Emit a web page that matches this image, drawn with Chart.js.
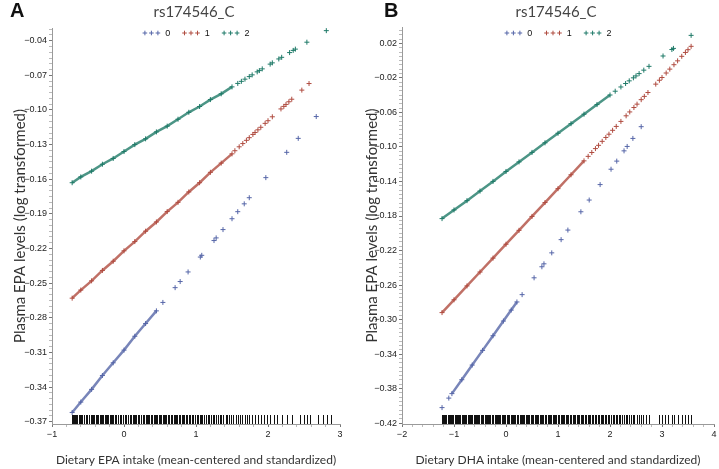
<!DOCTYPE html>
<html>
<head>
<meta charset="utf-8">
<script src="https://cdn.jsdelivr.net/npm/chart.js@4.4.1/dist/chart.umd.min.js"></script>
<style>
  html, body { margin: 0; padding: 0; background: #fff; }
  #wrap { position: relative; width: 719px; height: 469px; overflow: hidden; }
  canvas { position: absolute; top: 0; }
  #chartA { left: 0; }
  #chartB { left: 355px; }
</style>
</head>
<body>
<div id="wrap">
  <canvas id="chartA" width="360" height="469"></canvas>
  <canvas id="chartB" width="364" height="469"></canvas>
</div>
<script>
// ============================================
// DATA
// ============================================

const groupLabels = ['0', '1', '2'];
const groupColors = ['#5666a8', '#b04c40', '#1f7a68'];
const chartTitle = 'rs174546_C';

// ---- Panel A : dietary EPA ----
const aXTicks = [-1, 0, 1, 2, 3];
const aYTicks = [-0.37, -0.34, -0.31, -0.28, -0.25, -0.22, -0.19, -0.16, -0.13, -0.10, -0.07, -0.04];

const aX0Dense = [-0.72, -0.6, -0.45, -0.3, -0.15, 0, 0.15, 0.3, 0.45];
const aY0Dense = [-0.362, -0.353, -0.342, -0.330, -0.319, -0.308, -0.296, -0.285, -0.274];
const aX0Sparse = [0.54, 0.71, 0.78, 0.89, 1.06, 1.08, 1.25, 1.28, 1.375, 1.50, 1.58, 1.67, 1.74, 1.97, 2.26, 2.42, 2.67];
const aY0Sparse = [-0.2667, -0.2539, -0.2486, -0.2403, -0.2274, -0.2259, -0.2131, -0.2108, -0.2036, -0.1942, -0.1881, -0.1813, -0.1760, -0.1586, -0.1367, -0.1246, -0.1057];

const aX1Dense = [-0.72, -0.6, -0.45, -0.3, -0.15, 0, 0.15, 0.3, 0.45, 0.6, 0.75, 0.9, 1.05, 1.2, 1.35, 1.5];
const aY1Dense = [-0.263, -0.256, -0.248, -0.239, -0.231, -0.222, -0.214, -0.205, -0.197, -0.188, -0.180, -0.171, -0.163, -0.154, -0.146, -0.138];
const aX1Sparse = [1.54, 1.6, 1.65, 1.7, 1.74, 1.79, 1.82, 1.86, 1.9, 1.96, 2.0, 2.06, 2.18, 2.22, 2.25, 2.29, 2.33, 2.47, 2.57];
const aY1Sparse = [-0.1353, -0.1319, -0.1291, -0.1263, -0.1240, -0.1212, -0.1195, -0.1172, -0.1150, -0.1116, -0.1093, -0.1059, -0.0991, -0.0969, -0.0952, -0.0929, -0.0907, -0.0828, -0.0771];

const aX2Dense = [-0.72, -0.6, -0.45, -0.3, -0.15, 0, 0.15, 0.3, 0.45, 0.6, 0.75, 0.9, 1.05, 1.2, 1.35, 1.5];
const aY2Dense = [-0.163, -0.158, -0.153, -0.147, -0.142, -0.136, -0.130, -0.125, -0.119, -0.114, -0.108, -0.102, -0.097, -0.091, -0.086, -0.080];
const aX2Sparse = [1.58, 1.63, 1.68, 1.74, 1.78, 1.85, 1.88, 1.92, 2.03, 2.06, 2.15, 2.19, 2.30, 2.35, 2.38, 2.54, 2.81];
const aY2Sparse = [-0.0770, -0.0752, -0.0733, -0.0711, -0.0696, -0.0670, -0.0659, -0.0644, -0.0603, -0.0592, -0.0558, -0.0544, -0.0503, -0.0484, -0.0473, -0.0413, -0.0313];

const aRug = [-0.72, -0.71, -0.69, -0.68, -0.66, -0.65, -0.63, -0.61, -0.60, -0.58, -0.56, -0.55, -0.53, -0.51, -0.49, -0.48,
  -0.46, -0.44, -0.43, -0.41, -0.39, -0.37, -0.36, -0.34, -0.32, -0.30, -0.29, -0.27, -0.25, -0.23, -0.22, -0.20, -0.18,
  -0.16, -0.15, -0.13, -0.11, -0.09, -0.08, -0.06, -0.04, -0.02, -0.01, 0.01, 0.03, 0.05, 0.06, 0.08, 0.10, 0.12, 0.14,
  0.15, 0.17, 0.19, 0.21, 0.23, 0.24, 0.26, 0.28, 0.30, 0.32, 0.33, 0.35, 0.37, 0.39, 0.41, 0.43, 0.44, 0.46, 0.48, 0.50,
  0.52, 0.54, 0.56, 0.57, 0.59, 0.61, 0.63, 0.65, 0.67, 0.69, 0.71, 0.72, 0.74, 0.76, 0.78, 0.80, 0.82, 0.84, 0.86, 0.88,
  0.90, 0.92, 0.94, 0.96, 0.98, 1.01, 1.03, 1.05, 1.07, 1.09, 1.11, 1.14, 1.16, 1.18, 1.21, 1.23, 1.25, 1.28, 1.30, 1.33,
  1.35, 1.38, 1.41, 1.43, 1.46, 1.49, 1.52, 1.55, 1.58, 1.61, 1.64, 1.68, 1.71, 1.74, 1.78, 1.82, 1.86, 1.90, 1.94, 1.98,
  2.03, 2.08, 2.13, 2.19, 2.26, 2.33, 2.44, 2.50, 2.54, 2.58, 2.69, 2.76, 2.82, 2.87];

// ---- Panel B : dietary DHA ----
const bXTicks = [-2, -1, 0, 1, 2, 3, 4];
const bYTicks = [-0.42, -0.38, -0.34, -0.30, -0.26, -0.22, -0.18, -0.14, -0.10, -0.06, -0.02, 0.02];

const bX0Dense = [-1.04, -0.85, -0.65, -0.45, -0.25, -0.05, 0.1, 0.21];
const bY0Dense = [-0.3858, -0.3697, -0.3527, -0.3357, -0.3187, -0.3017, -0.2890, -0.2796];
const bX0Sparse = [-1.23, -1.1, 0.31, 0.54, 0.69, 0.73, 0.88, 1.06, 1.19, 1.44, 1.60, 1.81, 2.02, 2.13, 2.27, 2.33, 2.44, 2.60];
const bY0Sparse = [-0.402, -0.391, -0.2711, -0.2516, -0.2388, -0.2354, -0.2227, -0.2074, -0.1963, -0.1751, -0.1615, -0.1436, -0.1258, -0.1164, -0.1045, -0.0994, -0.0901, -0.0765];

const bX1Dense = [-1.23, -1.0, -0.75, -0.5, -0.25, 0, 0.25, 0.5, 0.75, 1.0, 1.25, 1.5];
const bY1Dense = [-0.2919, -0.2771, -0.2610, -0.2449, -0.2288, -0.2127, -0.1966, -0.1805, -0.1644, -0.1483, -0.1322, -0.1161];
const bX1Sparse = [1.58, 1.65, 1.72, 1.78, 1.85, 1.92, 1.98, 2.05, 2.12, 2.21, 2.31, 2.38, 2.46, 2.52, 2.60, 2.66, 2.73, 2.88, 2.95, 3.0, 3.08, 3.15, 3.23, 3.3, 3.38, 3.45, 3.5, 3.56];
const bY1Sparse = [-0.1109, -0.1064, -0.1019, -0.0981, -0.0935, -0.0890, -0.0852, -0.0807, -0.0762, -0.0704, -0.0639, -0.0594, -0.0543, -0.0504, -0.0452, -0.0414, -0.0369, -0.0272, -0.0227, -0.0195, -0.0143, -0.0098, -0.0047, -0.0002, 0.0050, 0.0095, 0.0127, 0.0166];

const bX2Dense = [-1.23, -1.0, -0.75, -0.5, -0.25, 0, 0.25, 0.5, 0.75, 1.0, 1.25, 1.5, 1.75, 2.0];
const bY2Dense = [-0.183, -0.173, -0.1622, -0.1511, -0.1399, -0.1284, -0.1173, -0.1063, -0.0952, -0.0841, -0.0730, -0.0620, -0.0509, -0.0398];
const bX2Sparse = [2.1, 2.21, 2.3, 2.37, 2.45, 2.5, 2.56, 2.65, 2.75, 3.02, 3.19, 3.22, 3.56];
const bY2Sparse = [-0.0354, -0.0305, -0.0265, -0.0234, -0.0199, -0.0177, -0.0150, -0.0110, -0.0066, 0.0054, 0.0129, 0.0142, 0.0293];

const bRug = [-1.23, -1.21, -1.19, -1.17, -1.15, -1.12, -1.10, -1.08, -1.06, -1.04, -1.01, -0.99, -0.97, -0.95, -0.92, -0.90,
  -0.88, -0.85, -0.83, -0.81, -0.79, -0.76, -0.74, -0.72, -0.69, -0.67, -0.65, -0.62, -0.60, -0.58, -0.55, -0.53, -0.51,
  -0.48, -0.46, -0.44, -0.41, -0.39, -0.37, -0.34, -0.32, -0.30, -0.27, -0.25, -0.22, -0.20, -0.18, -0.15, -0.13, -0.11,
  -0.08, -0.06, -0.03, -0.01, 0.01, 0.04, 0.06, 0.09, 0.11, 0.13, 0.16, 0.18, 0.21, 0.23, 0.26, 0.28, 0.30, 0.33, 0.35,
  0.38, 0.40, 0.43, 0.45, 0.48, 0.50, 0.52, 0.55, 0.57, 0.60, 0.62, 0.65, 0.67, 0.70, 0.72, 0.75, 0.77, 0.80, 0.82, 0.85,
  0.87, 0.90, 0.92, 0.95, 0.97, 1.00, 1.02, 1.05, 1.07, 1.10, 1.12, 1.15, 1.18, 1.20, 1.23, 1.25, 1.28, 1.31, 1.33, 1.36,
  1.38, 1.41, 1.44, 1.46, 1.49, 1.52, 1.54, 1.57, 1.60, 1.62, 1.65, 1.68, 1.71, 1.73, 1.76, 1.79, 1.82, 1.85, 1.87, 1.90,
  1.93, 1.96, 1.99, 2.02, 2.05, 2.08, 2.11, 2.14, 2.17, 2.20, 2.23, 2.27, 2.30, 2.33, 2.37, 2.40, 2.44, 2.47, 2.51, 2.55,
  2.60, 2.64, 2.69, 2.75, 2.95, 3.00, 3.05, 3.12, 3.19, 3.23, 3.30, 3.38, 3.45, 3.50, 3.56];

// ============================================
// HELPERS
// ============================================

function zip(xs, ys) {
    return xs.map((x, i) => ({ x: x, y: ys[i] }));
}

function fmt(v, digits) {
    const s = Math.abs(v).toFixed(digits);
    return (v < -1e-9 ? '\u2212' : '') + s;
}

function withAlpha(hex, a) {
    const n = parseInt(hex.slice(1), 16);
    return `rgba(${(n >> 16) & 255}, ${(n >> 8) & 255}, ${n & 255}, ${a})`;
}

function buildDatasets(dense, sparse) {
    const datasets = [];
    groupLabels.forEach((label, i) => {
        datasets.push({
            label: label,
            data: zip(dense[i][0], dense[i][1]),
            showLine: true,
            borderColor: withAlpha(groupColors[i], 0.8),
            borderWidth: 2.5,
            pointStyle: 'cross',
            pointRadius: 2.5,
            pointBorderColor: groupColors[i],
            pointBorderWidth: 1,
            order: 3 - i
        });
        datasets.push({
            label: label,
            inLegend: false,
            data: zip(sparse[i][0], sparse[i][1]),
            showLine: false,
            pointStyle: 'cross',
            pointRadius: 2.5,
            pointBorderColor: groupColors[i],
            pointBorderWidth: 1,
            order: 3 - i
        });
    });
    return datasets;
}

// major ticks labelled, minor ticks in between
function tickBuilder(majors, subdivisions, min, max) {
    const step = (majors[1] - majors[0]) / subdivisions;
    return function (scale) {
        const ticks = [];
        for (let k = -50; k <= 200; k++) {
            const v = majors[0] + k * step;
            if (v >= min - 1e-9 && v <= max + 1e-9) ticks.push({ value: +v.toFixed(6) });
        }
        scale.ticks = ticks;
    };
}

function isMajor(majors, v) {
    return majors.some(m => Math.abs(m - v) < 1e-6);
}

// ============================================
// PLUGINS
// ============================================

const rugPlugin = {
    id: 'rug',
    afterDatasetsDraw(chart, args, opts) {
        const { ctx, chartArea } = chart;
        const sx = chart.scales.x;
        ctx.save();
        ctx.strokeStyle = '#111';
        ctx.lineWidth = 1;
        ctx.beginPath();
        opts.values.forEach(v => {
            const px = Math.round(sx.getPixelForValue(v)) + 0.5;
            ctx.moveTo(px, chartArea.bottom - 9);
            ctx.lineTo(px, chartArea.bottom);
        });
        ctx.stroke();
        ctx.restore();
    }
};

const headerPlugin = {
    id: 'header',
    afterDraw(chart, args, opts) {
        const { ctx, chartArea } = chart;
        const cx = (chartArea.left + chartArea.right) / 2;
        ctx.save();
        ctx.textBaseline = 'middle';

        ctx.fillStyle = '#111';
        ctx.font = 'bold 20px "Liberation Sans", Arial, sans-serif';
        ctx.textAlign = 'left';
        ctx.fillText(opts.letter, opts.letterX, 11);

        ctx.fillStyle = '#444';
        ctx.font = '15px Lato, "Liberation Sans", sans-serif';
        ctx.textAlign = 'center';
        ctx.fillText(opts.title, cx + opts.titleShift, 12);

        // legend: three crosses then label
        ctx.font = '9px "Liberation Sans", Arial, sans-serif';
        const items = chart.data.datasets.filter(d => d.inLegend !== false);
        const crossGap = 6.5, r = 2.3, markW = crossGap * 2 + r * 2, gap = 5, itemGap = 12;
        const widths = items.map(d => markW + gap + ctx.measureText(d.label).width);
        const total = widths.reduce((a, b) => a + b, 0) + itemGap * (items.length - 1);
        let x = cx - total / 2;
        const y = 33;
        items.forEach((d, i) => {
            ctx.strokeStyle = d.pointBorderColor;
            ctx.lineWidth = 1;
            ctx.beginPath();
            for (let k = 0; k < 3; k++) {
                const px = x + r + k * crossGap;
                ctx.moveTo(px - r, y); ctx.lineTo(px + r, y);
                ctx.moveTo(px, y - r); ctx.lineTo(px, y + r);
            }
            ctx.stroke();
            ctx.fillStyle = '#111';
            ctx.textAlign = 'left';
            ctx.fillText(d.label, x + markW + gap, y + 0.5);
            x += widths[i] + itemGap;
        });
        ctx.restore();
    }
};

// ============================================
// CHART FACTORY
// ============================================

function makePanel(canvasId, cfg) {
    const tickFont = { family: '"Liberation Sans", Arial, sans-serif', size: 9 };
    return new Chart(document.getElementById(canvasId), {
        type: 'scatter',
        data: { datasets: cfg.datasets },
        plugins: [rugPlugin, headerPlugin],
        options: {
            responsive: false,
            animation: false,
            layout: { padding: { top: cfg.padTop, right: cfg.padRight, left: 0, bottom: 0 } },
            plugins: {
                legend: { display: false },
                tooltip: { enabled: false },
                rug: { values: cfg.rug },
                header: { letter: cfg.letter, letterX: cfg.letterX, title: chartTitle, titleShift: cfg.titleShift }
            },
            scales: {
                x: {
                    type: 'linear',
                    min: cfg.xMin, max: cfg.xMax,
                    afterBuildTicks: tickBuilder(cfg.xTicks, 5, cfg.xMin, cfg.xMax),
                    afterFit: s => { s.height = cfg.xAxisHeight; },
                    border: { display: true, color: '#9a9a9a' },
                    grid: {
                        drawOnChartArea: false, drawTicks: true, tickLength: 3,
                        tickColor: c => isMajor(cfg.xTicks, c.tick.value) ? '#777' : '#bbb'
                    },
                    ticks: {
                        autoSkip: false, maxRotation: 0, padding: 2,
                        color: '#222', font: tickFont,
                        callback: v => isMajor(cfg.xTicks, v) ? fmt(v, 0) : ''
                    },
                    title: {
                        display: true, text: cfg.xTitle, color: '#333',
                        font: { family: 'Lato, sans-serif', size: 12 },
                        padding: { top: 0, bottom: 2 }
                    }
                },
                y: {
                    type: 'linear',
                    min: cfg.yMin, max: cfg.yMax,
                    afterBuildTicks: tickBuilder(cfg.yTicks, cfg.ySub, cfg.yMin, cfg.yMax),
                    afterFit: s => { s.width = cfg.yAxisWidth; },
                    border: { display: true, color: '#9a9a9a' },
                    grid: {
                        drawOnChartArea: false, drawTicks: true, tickLength: 3,
                        tickColor: c => isMajor(cfg.yTicks, c.tick.value) ? '#777' : '#bbb'
                    },
                    ticks: {
                        autoSkip: false, padding: 2,
                        color: '#222', font: tickFont,
                        callback: v => isMajor(cfg.yTicks, v) ? fmt(v, 2) : ''
                    },
                    title: {
                        display: true, text: 'Plasma EPA levels (log transformed)', color: '#333',
                        font: { family: 'Lato, sans-serif', size: 15 },
                        padding: { top: cfg.yTitlePad, bottom: 0 }
                    }
                }
            }
        }
    });
}

makePanel('chartA', {
    letter: 'A', letterX: 10, titleShift: -2,
    datasets: buildDatasets(
        [[aX0Dense, aY0Dense], [aX1Dense, aY1Dense], [aX2Dense, aY2Dense]],
        [[aX0Sparse, aY0Sparse], [aX1Sparse, aY1Sparse], [aX2Sparse, aY2Sparse]]),
    rug: aRug,
    xMin: -1, xMax: 3, xTicks: aXTicks,
    yMin: -0.372, yMax: -0.029, yTicks: aYTicks, ySub: 6,
    xTitle: 'Dietary EPA intake (mean-centered and standardized)',
    padTop: 28, padRight: 20, yAxisWidth: 52, xAxisHeight: 45, yTitlePad: 11
});

makePanel('chartB', {
    letter: 'B', letterX: 29, titleShift: -2,
    datasets: buildDatasets(
        [[bX0Dense, bY0Dense], [bX1Dense, bY1Dense], [bX2Dense, bY2Dense]],
        [[bX0Sparse, bY0Sparse], [bX1Sparse, bY1Sparse], [bX2Sparse, bY2Sparse]]),
    rug: bRug,
    xMin: -2, xMax: 4, xTicks: bXTicks,
    yMin: -0.421, yMax: 0.039, yTicks: bYTicks, ySub: 8,
    xTitle: 'Dietary DHA intake (mean-centered and standardized)',
    padTop: 27, padRight: 4, yAxisWidth: 47, xAxisHeight: 45, yTitlePad: 8
});
</script>
</body>
</html>
